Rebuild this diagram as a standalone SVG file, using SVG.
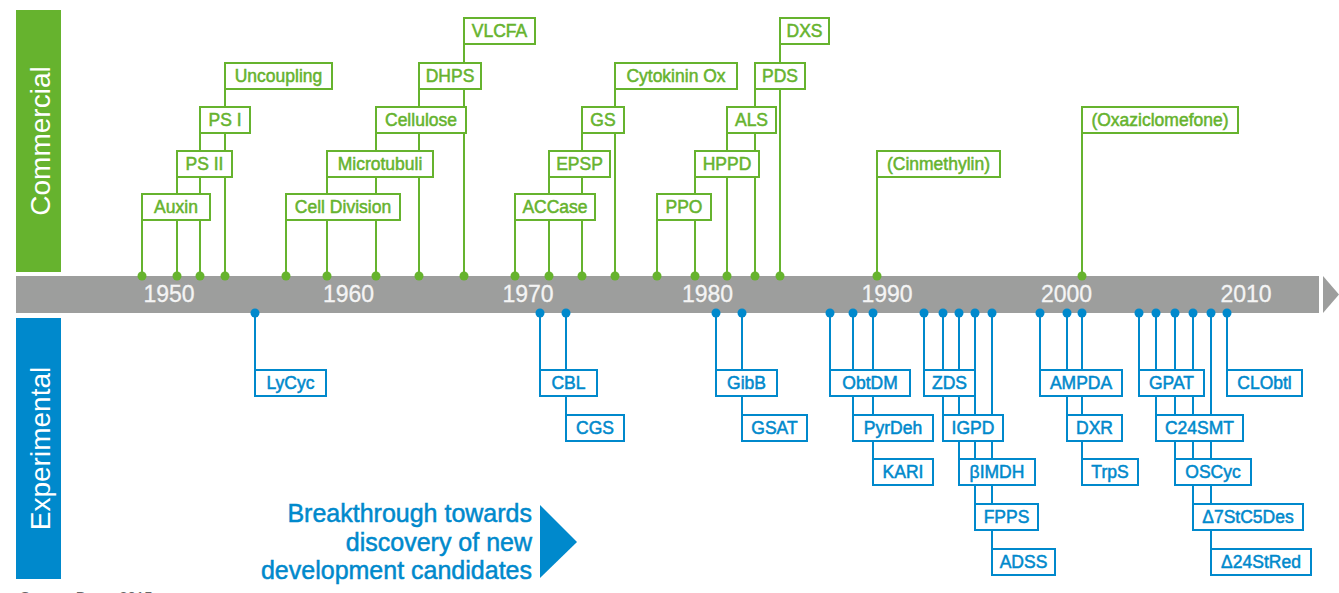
<svg xmlns="http://www.w3.org/2000/svg" width="1339" height="593" viewBox="0 0 1339 593">
<style>
.g rect{fill:#fff;stroke:#66b32e;stroke-width:2}
.b rect{fill:#fff;stroke:#0089cc;stroke-width:2}
.g text{fill:#66b32e;stroke:#66b32e}
.b text{fill:#0089cc;stroke:#0089cc}
.g text,.b text{font-family:"Liberation Sans",Arial,sans-serif;font-size:17.5px;text-anchor:middle;stroke-width:0.5}
.gl{stroke:#66b32e;stroke-width:2;fill:none}
.bl{stroke:#0089cc;stroke-width:2;fill:none}
.gd{fill:#66b32e}
.bd{fill:#0089cc}
.yr{font-family:"Liberation Sans",Arial,sans-serif;font-size:23px;fill:#f4f4f4;text-anchor:middle;stroke:#f4f4f4;stroke-width:0.3}
.side{font-family:"Liberation Sans",Arial,sans-serif;font-size:28px;fill:#fff;text-anchor:middle}
.bt{font-family:"Liberation Sans",Arial,sans-serif;font-size:25px;fill:#0089cc;text-anchor:end;stroke:#0089cc;stroke-width:0.5}
</style>
<rect width="1339" height="593" fill="#fff"/>
<g id="panels">
<rect x="16" y="10" width="45" height="262" fill="#66b32e"/>
<text class="side" transform="translate(50,141) rotate(-90)">Commercial</text>
<rect x="16" y="318" width="45" height="261" fill="#0089cc"/>
<text class="side" transform="translate(50,448.5) rotate(-90)">Experimental</text>
</g>
<g id="timeline">
<rect x="16" y="276" width="1303" height="37" fill="#9d9e9d"/>
<polygon points="1323,276 1339,294.5 1323,313" fill="#9d9e9d"/>
<text class="yr" x="169" y="302">1950</text>
<text class="yr" x="348.5" y="302">1960</text>
<text class="yr" x="528" y="302">1970</text>
<text class="yr" x="707.5" y="302">1980</text>
<text class="yr" x="887" y="302">1990</text>
<text class="yr" x="1066.5" y="302">2000</text>
<text class="yr" x="1246" y="302">2010</text>
</g>
<g id="connectors">
<g class="gl">
<line x1="142" y1="276" x2="142" y2="221"/>
<line x1="177" y1="276" x2="177" y2="177"/>
<line x1="200" y1="276" x2="200" y2="133"/>
<line x1="225" y1="276" x2="225" y2="89"/>
<line x1="286" y1="276" x2="286" y2="221"/>
<line x1="327" y1="276" x2="327" y2="177"/>
<line x1="376" y1="276" x2="376" y2="133"/>
<line x1="419" y1="276" x2="419" y2="89"/>
<line x1="464" y1="276" x2="464" y2="45"/>
<line x1="515" y1="276" x2="515" y2="221"/>
<line x1="549" y1="276" x2="549" y2="177"/>
<line x1="582" y1="276" x2="582" y2="133"/>
<line x1="615" y1="276" x2="615" y2="89"/>
<line x1="657" y1="276" x2="657" y2="221"/>
<line x1="695" y1="276" x2="695" y2="177"/>
<line x1="727" y1="276" x2="727" y2="133"/>
<line x1="755" y1="276" x2="755" y2="89"/>
<line x1="780" y1="276" x2="780" y2="45"/>
<line x1="877" y1="276" x2="877" y2="177"/>
<line x1="1082" y1="276" x2="1082" y2="133"/>
</g>
<g class="gd">
<circle cx="142" cy="276" r="4.5"/><circle cx="177" cy="276" r="4.5"/><circle cx="200" cy="276" r="4.5"/><circle cx="225" cy="276" r="4.5"/>
<circle cx="286" cy="276" r="4.5"/><circle cx="327" cy="276" r="4.5"/><circle cx="376" cy="276" r="4.5"/><circle cx="419" cy="276" r="4.5"/>
<circle cx="464" cy="276" r="4.5"/><circle cx="515" cy="276" r="4.5"/><circle cx="549" cy="276" r="4.5"/><circle cx="582" cy="276" r="4.5"/>
<circle cx="615" cy="276" r="4.5"/><circle cx="657" cy="276" r="4.5"/><circle cx="695" cy="276" r="4.5"/><circle cx="727" cy="276" r="4.5"/>
<circle cx="755" cy="276" r="4.5"/><circle cx="780" cy="276" r="4.5"/><circle cx="877" cy="276" r="4.5"/><circle cx="1082" cy="276" r="4.5"/>
</g>
<g class="bl">
<line x1="255" y1="313" x2="255" y2="369"/>
<line x1="540" y1="313" x2="540" y2="369"/>
<line x1="566" y1="313" x2="566" y2="414"/>
<line x1="716" y1="313" x2="716" y2="369"/>
<line x1="742" y1="313" x2="742" y2="414"/>
<line x1="830" y1="313" x2="830" y2="369"/>
<line x1="853" y1="313" x2="853" y2="414"/>
<line x1="873" y1="313" x2="873" y2="458"/>
<line x1="924" y1="313" x2="924" y2="369"/>
<line x1="943" y1="313" x2="943" y2="414"/>
<line x1="959" y1="313" x2="959" y2="458"/>
<line x1="975" y1="313" x2="975" y2="503"/>
<line x1="992" y1="313" x2="992" y2="548"/>
<line x1="1040" y1="313" x2="1040" y2="369"/>
<line x1="1067" y1="313" x2="1067" y2="414"/>
<line x1="1082" y1="313" x2="1082" y2="458"/>
<line x1="1139" y1="313" x2="1139" y2="369"/>
<line x1="1156" y1="313" x2="1156" y2="414"/>
<line x1="1175" y1="313" x2="1175" y2="458"/>
<line x1="1193" y1="313" x2="1193" y2="503"/>
<line x1="1211" y1="313" x2="1211" y2="548"/>
<line x1="1227" y1="313" x2="1227" y2="369"/>
</g>
<g class="bd">
<circle cx="255" cy="313" r="4.5"/><circle cx="540" cy="313" r="4.5"/><circle cx="566" cy="313" r="4.5"/><circle cx="716" cy="313" r="4.5"/>
<circle cx="742" cy="313" r="4.5"/><circle cx="830" cy="313" r="4.5"/><circle cx="853" cy="313" r="4.5"/><circle cx="873" cy="313" r="4.5"/>
<circle cx="924" cy="313" r="4.5"/><circle cx="943" cy="313" r="4.5"/><circle cx="959" cy="313" r="4.5"/><circle cx="975" cy="313" r="4.5"/>
<circle cx="992" cy="313" r="4.5"/><circle cx="1040" cy="313" r="4.5"/><circle cx="1067" cy="313" r="4.5"/><circle cx="1082" cy="313" r="4.5"/>
<circle cx="1139" cy="313" r="4.5"/><circle cx="1156" cy="313" r="4.5"/><circle cx="1175" cy="313" r="4.5"/><circle cx="1193" cy="313" r="4.5"/>
<circle cx="1211" cy="313" r="4.5"/><circle cx="1227" cy="313" r="4.5"/>
</g>
</g>
<g class="g">
<g id="uncoupling"><rect x="225" y="63" width="107" height="26"/><text x="278.5" y="82">Uncoupling</text></g>
<g id="ps1"><rect x="200" y="107" width="50" height="26"/><text x="225" y="126">PS I</text></g>
<g id="ps2"><rect x="177" y="151" width="55" height="26"/><text x="204.5" y="170">PS II</text></g>
<g id="auxin"><rect x="142" y="194" width="68" height="26"/><text x="176" y="213">Auxin</text></g>
<g id="vlcfa"><rect x="464" y="18" width="71" height="26"/><text x="499.5" y="37">VLCFA</text></g>
<g id="dhps"><rect x="419" y="63" width="62" height="26"/><text x="450" y="82">DHPS</text></g>
<g id="cellulose"><rect x="376" y="107" width="90" height="26"/><text x="421" y="126">Cellulose</text></g>
<g id="microtubuli"><rect x="327" y="151" width="106" height="26"/><text x="380" y="170">Microtubuli</text></g>
<g id="celldivision"><rect x="286" y="194" width="114" height="26"/><text x="343" y="213">Cell Division</text></g>
<g id="cytokinin"><rect x="615" y="63" width="122" height="26"/><text x="676" y="82">Cytokinin Ox</text></g>
<g id="gs"><rect x="582" y="107" width="42" height="26"/><text x="603" y="126">GS</text></g>
<g id="epsp"><rect x="549" y="151" width="61" height="26"/><text x="579.5" y="170">EPSP</text></g>
<g id="accase"><rect x="515" y="194" width="80" height="26"/><text x="555" y="213">ACCase</text></g>
<g id="dxs"><rect x="780" y="18" width="49" height="26"/><text x="804.5" y="37">DXS</text></g>
<g id="pds"><rect x="755" y="63" width="50" height="26"/><text x="780" y="82">PDS</text></g>
<g id="als"><rect x="727" y="107" width="49" height="26"/><text x="751.5" y="126">ALS</text></g>
<g id="hppd"><rect x="695" y="151" width="64" height="26"/><text x="727" y="170">HPPD</text></g>
<g id="ppo"><rect x="657" y="194" width="54" height="26"/><text x="684" y="213">PPO</text></g>
<g id="cinmethylin"><rect x="877" y="151" width="123" height="26"/><text x="938.5" y="170">(Cinmethylin)</text></g>
<g id="oxaziclomefone"><rect x="1082" y="107" width="156" height="26"/><text x="1160" y="126">(Oxaziclomefone)</text></g>
</g>
<g class="b">
<g id="lycyc"><rect x="255" y="370" width="71" height="26"/><text x="290.5" y="389">LyCyc</text></g>
<g id="cbl"><rect x="540" y="370" width="57" height="26"/><text x="568.5" y="389">CBL</text></g>
<g id="cgs"><rect x="566" y="415" width="58" height="26"/><text x="595" y="434">CGS</text></g>
<g id="gibb"><rect x="716" y="370" width="61" height="26"/><text x="746.5" y="389">GibB</text></g>
<g id="gsat"><rect x="742" y="415" width="65" height="26"/><text x="774.5" y="434">GSAT</text></g>
<g id="obtdm"><rect x="830" y="370" width="80" height="26"/><text x="870" y="389">ObtDM</text></g>
<g id="pyrdeh"><rect x="853" y="415" width="80" height="26"/><text x="893" y="434">PyrDeh</text></g>
<g id="kari"><rect x="873" y="459" width="60" height="26"/><text x="903" y="478">KARI</text></g>
<g id="zds"><rect x="924" y="370" width="51" height="26"/><text x="949.5" y="389">ZDS</text></g>
<g id="igpd"><rect x="943" y="415" width="60" height="26"/><text x="973" y="434">IGPD</text></g>
<g id="bimdh"><rect x="959" y="459" width="76" height="26"/><text x="997" y="478">βIMDH</text></g>
<g id="fpps"><rect x="975" y="504" width="63" height="26"/><text x="1006.5" y="523">FPPS</text></g>
<g id="adss"><rect x="992" y="549" width="63" height="26"/><text x="1023.5" y="568">ADSS</text></g>
<g id="ampda"><rect x="1040" y="370" width="82" height="26"/><text x="1081" y="389">AMPDA</text></g>
<g id="dxr"><rect x="1067" y="415" width="55" height="26"/><text x="1094.5" y="434">DXR</text></g>
<g id="trps"><rect x="1082" y="459" width="56" height="26"/><text x="1110" y="478">TrpS</text></g>
<g id="gpat"><rect x="1139" y="370" width="65" height="26"/><text x="1171.5" y="389">GPAT</text></g>
<g id="c24smt"><rect x="1156" y="415" width="87" height="26"/><text x="1199.5" y="434">C24SMT</text></g>
<g id="oscyc"><rect x="1175" y="459" width="76" height="26"/><text x="1213" y="478">OSCyc</text></g>
<g id="d7stc5des"><rect x="1193" y="504" width="110" height="26"/><text x="1248" y="523">Δ7StC5Des</text></g>
<g id="d24stred"><rect x="1211" y="549" width="100" height="26"/><text x="1261" y="568">Δ24StRed</text></g>
<g id="clobtl"><rect x="1227" y="370" width="75" height="26"/><text x="1264.5" y="389">CLObtl</text></g>
</g>
<g id="breakthrough">
<text class="bt" x="532" y="522">Breakthrough towards</text>
<text class="bt" x="532" y="551">discovery of new</text>
<text class="bt" x="532" y="579">development candidates</text>
<polygon points="540,505 577,542 540,578" fill="#0089cc"/>
</g>
<text x="20" y="602" font-family="Liberation Sans, Arial, sans-serif" font-size="15" fill="#666">Source: Bayer 2015</text>
</svg>
